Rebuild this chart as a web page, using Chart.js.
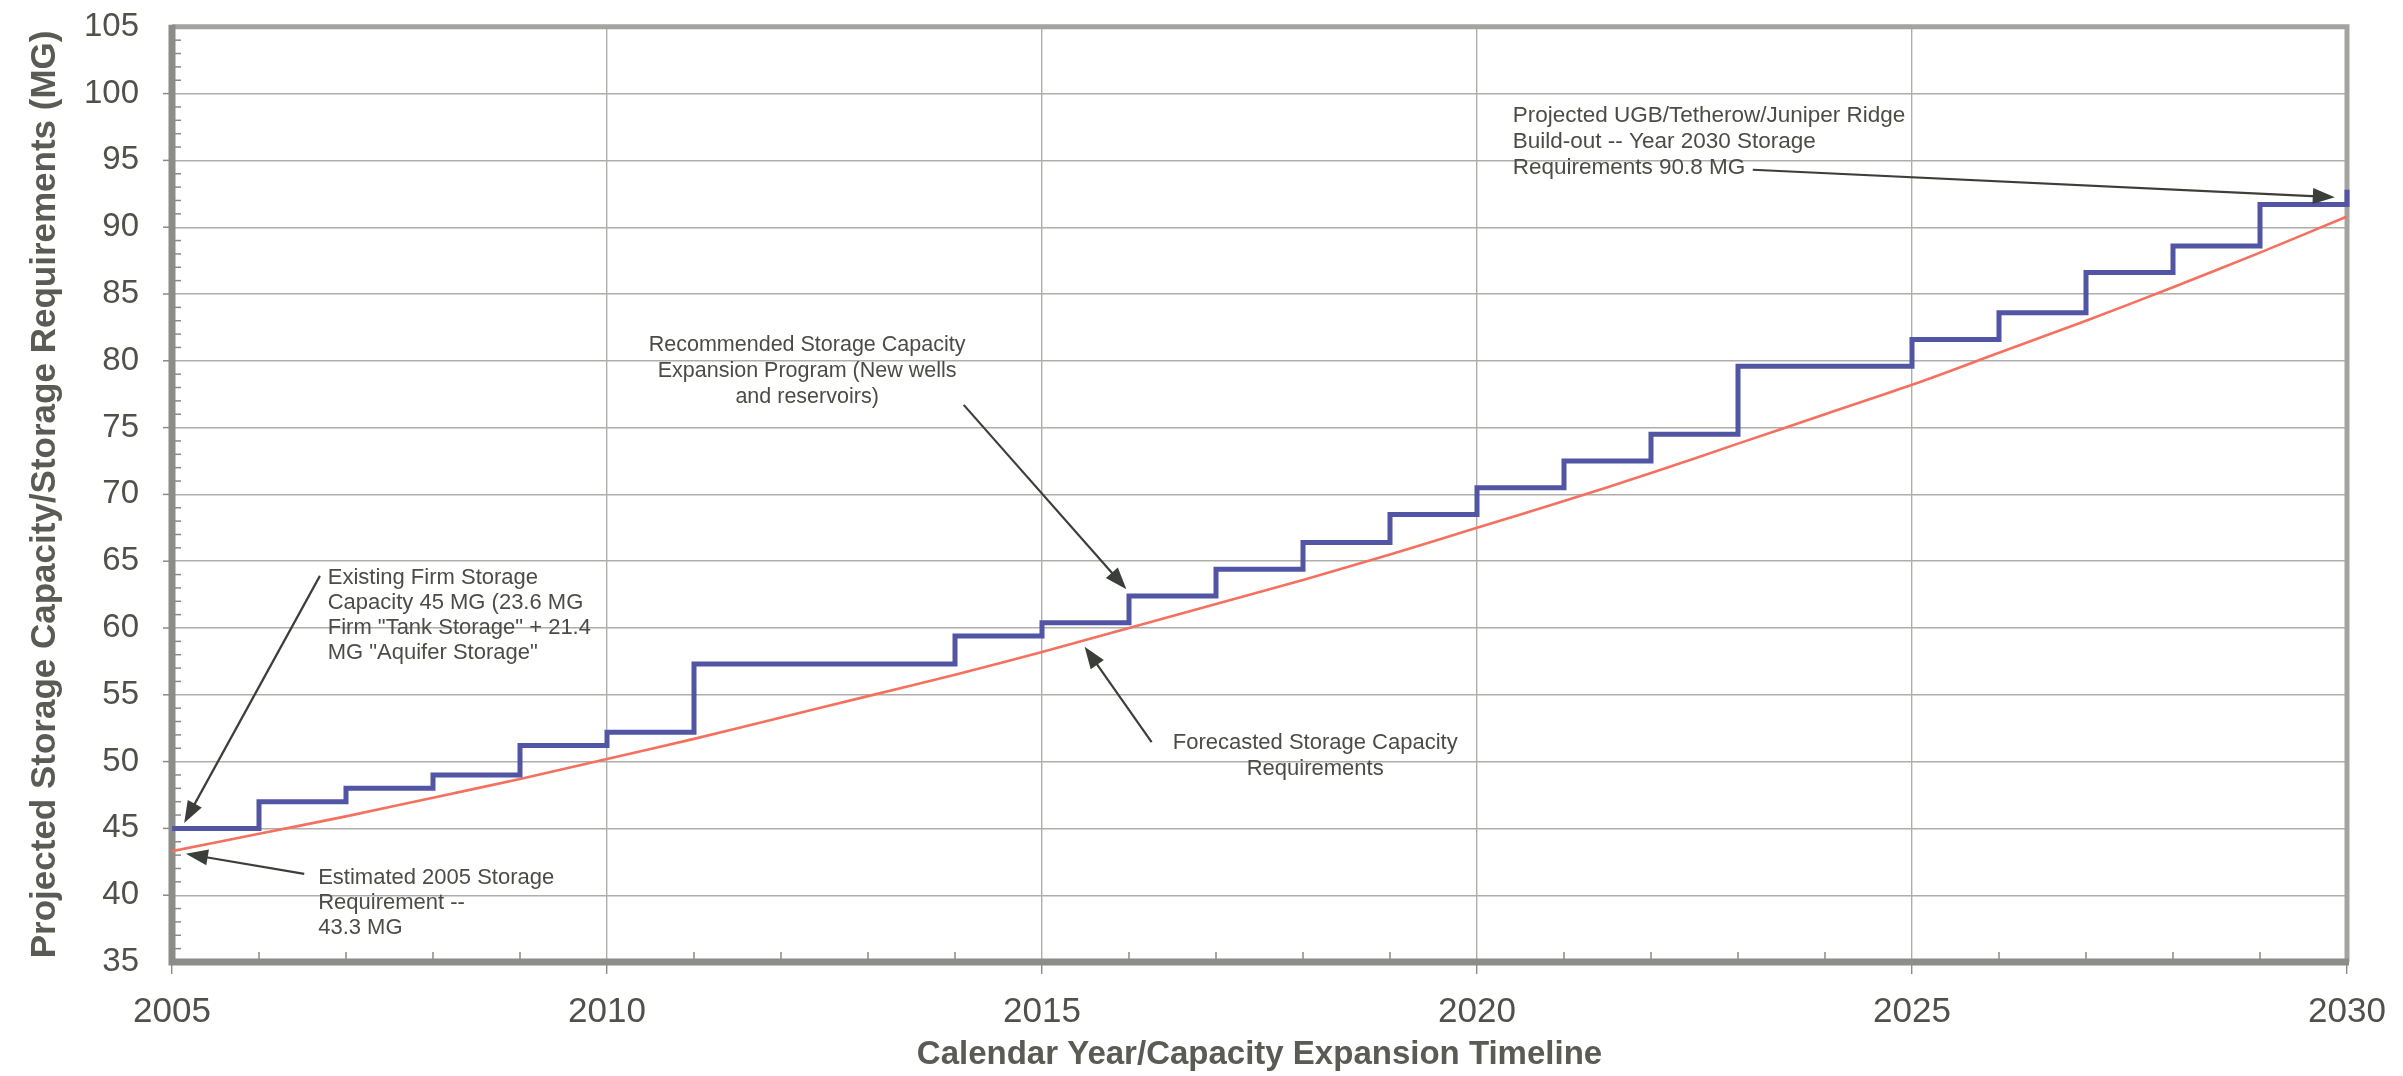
<!DOCTYPE html>
<html>
<head>
<meta charset="utf-8">
<style>
html,body{margin:0;padding:0;background:#fff;}
#wrap{width:2403px;height:1076px;position:relative;}
</style>
<script src="https://cdn.jsdelivr.net/npm/chart.js@4.4.1/dist/chart.umd.min.js"></script>
</head>
<body>
<div id="wrap"><canvas id="c" width="2403" height="1076"></canvas></div>
<script>
// ---- Data ----
const forecastYears = [2005,2006,2007,2008,2009,2010,2011,2012,2013,2014,2015,2016,2017,2018,2019,2020,2021,2022,2023,2024,2025,2026,2027,2028,2029,2030];
const forecastMG = [43.3,44.6,45.9,47.3,48.7,50.2,51.7,53.3,54.9,56.5,58.2,60.0,61.8,63.6,65.5,67.5,69.5,71.6,73.8,76.0,78.2,80.6,83.0,85.5,88.1,90.8];

const expansionYears = [2005,2006,2007,2008,2009,2010,2011,2012,2013,2014,2015,2016,2017,2018,2019,2020,2021,2022,2023,2024,2025,2026,2027,2028,2029,2030,2030];
const expansionMG = [45,47,48,49,51.2,52.2,57.3,57.3,57.3,59.4,60.4,62.4,64.4,66.4,68.5,70.5,72.5,74.5,79.6,79.6,81.6,83.6,86.6,88.6,91.7,91.7,92.8];

const xTickLabels = [2005,2010,2015,2020,2025,2030];
const yTickLabels = [35,40,45,50,55,60,65,70,75,80,85,90,95,100,105];

const xTitle = 'Calendar Year/Capacity Expansion Timeline';
const yTitle = 'Projected Storage Capacity/Storage Requirements (MG)';

// annotations: text lines, alignment, first-line anchor (data units), arrow from/to (data units)
const notes = [
  {lines:['Existing Firm Storage','Capacity 45 MG (23.6 MG','Firm "Tank Storage" + 21.4','MG "Aquifer Storage"'],
   align:'left', size:22, lh:25, tx:2006.79, ty:63.75, from:[2006.70,63.9], to:[2005.14,45.4]},
  {lines:['Estimated 2005 Storage','Requirement --','43.3 MG'],
   align:'left', size:22, lh:25, tx:2006.68, ty:41.3, from:[2006.52,41.6], to:[2005.16,43.1]},
  {lines:['Recommended Storage Capacity','Expansion Program (New wells','and reservoirs)'],
   align:'center', size:21.5, lh:26, tx:2012.30, ty:81.2, from:[2014.10,76.7], to:[2015.97,62.9]},
  {lines:['Forecasted Storage Capacity','Requirements'],
   align:'center', size:22, lh:26, tx:2018.14, ty:51.38, from:[2016.26,51.45], to:[2015.49,58.6]},
  {lines:['Projected UGB/Tetherow/Juniper Ridge','Build-out -- Year 2030 Storage','Requirements 90.8 MG'],
   align:'left', size:22.5, lh:26, tx:2020.41, ty:98.35, from:[2023.17,94.3], to:[2029.86,92.25]}
];

const TEXT = '#4b4c46';
const SANS = '"Liberation Sans", Arial, sans-serif';

const framePlugin = {
  id:'frame',
  beforeDatasetsDraw(chart){
    const {ctx, chartArea:a, scales:{x,y}} = chart;
    ctx.save();
    ctx.strokeStyle = '#8a8a86';
    ctx.lineWidth = 1.5;
    for(let v=36; v<105; v++){
      const py = y.getPixelForValue(v);
      ctx.beginPath();
      if(v%5===0){ ctx.moveTo(a.left-9, py); ctx.lineTo(a.left, py); }
      else { ctx.moveTo(a.left, py); ctx.lineTo(a.left+9, py); }
      ctx.stroke();
    }
    for(let v=2006; v<2030; v++){
      if(v%5===0) continue;
      const px = x.getPixelForValue(v);
      ctx.beginPath(); ctx.moveTo(px, a.bottom); ctx.lineTo(px, a.bottom-10); ctx.stroke();
    }
    // plot frame: top/right lighter, left/bottom heavier
    ctx.strokeStyle = '#a3a3a0';
    ctx.lineWidth = 5;
    ctx.beginPath();
    ctx.moveTo(a.left, a.top); ctx.lineTo(a.right, a.top); ctx.lineTo(a.right, a.bottom);
    ctx.stroke();
    ctx.strokeStyle = '#8c8c88';
    ctx.lineWidth = 7;
    ctx.beginPath();
    ctx.moveTo(a.left, a.top-2); ctx.lineTo(a.left, a.bottom); ctx.lineTo(a.right+2, a.bottom);
    ctx.stroke();
    ctx.restore();
  },
  afterDatasetsDraw(chart){
    const {ctx, scales:{x,y}} = chart;
    ctx.save();
    for(const n of notes){
      ctx.font = n.size + 'px ' + SANS;
      ctx.fillStyle = TEXT;
      ctx.textAlign = n.align;
      ctx.textBaseline = 'middle';
      const tx = x.getPixelForValue(n.tx), ty = y.getPixelForValue(n.ty);
      n.lines.forEach((t,i)=>ctx.fillText(t, tx, ty + i*n.lh));
      const x1 = x.getPixelForValue(n.from[0]), y1 = y.getPixelForValue(n.from[1]);
      const x2 = x.getPixelForValue(n.to[0]), y2 = y.getPixelForValue(n.to[1]);
      const ang = Math.atan2(y2-y1, x2-x1);
      const hl = 22, hw = 8;
      ctx.strokeStyle = '#3b3e39';
      ctx.fillStyle = '#3b3e39';
      ctx.lineWidth = 2.2;
      ctx.beginPath();
      ctx.moveTo(x1,y1);
      ctx.lineTo(x2 - Math.cos(ang)*hl*0.8, y2 - Math.sin(ang)*hl*0.8);
      ctx.stroke();
      ctx.beginPath();
      ctx.moveTo(x2,y2);
      ctx.lineTo(x2 - Math.cos(ang)*hl - Math.sin(ang)*hw, y2 - Math.sin(ang)*hl + Math.cos(ang)*hw);
      ctx.lineTo(x2 - Math.cos(ang)*hl + Math.sin(ang)*hw, y2 - Math.sin(ang)*hl - Math.cos(ang)*hw);
      ctx.closePath();
      ctx.fill();
    }
    ctx.restore();
  }
};

new Chart(document.getElementById('c'), {
  type:'line',
  data:{
    datasets:[
      {
        label:'Recommended Storage Capacity Expansion Program',
        data: expansionYears.map((yr,i)=>({x:yr, y:expansionMG[i]})),
        stepped:'before',
        borderColor:'#5155a3',
        borderWidth:5,
        pointRadius:0,
        fill:false,
        clip:false,
        order:1
      },
      {
        label:'Forecasted Storage Capacity Requirements',
        data: forecastYears.map((yr,i)=>({x:yr, y:forecastMG[i]})),
        borderColor:'#f5705e',
        borderWidth:2.6,
        pointRadius:0,
        tension:0.3,
        fill:false,
        order:2
      }
    ]
  },
  options:{
    responsive:false,
    animation:false,
    devicePixelRatio:1,
    layout:{padding:{top:26,right:56,left:0,bottom:0}},
    plugins:{legend:{display:false}, tooltip:{enabled:false}},
    scales:{
      x:{
        type:'linear', min:2005, max:2030,
        afterBuildTicks(s){ s.ticks = xTickLabels.map(v=>({value:v})); },
        afterFit(s){ s.height = 114; },
        border:{display:false},
        grid:{color:'#aeaeaa', lineWidth:1.4, drawTicks:true, tickLength:12, tickColor:'#8a8a86'},
        ticks:{color:'#50514b', font:{family:SANS, size:35}, padding:17, maxRotation:0, autoSkip:false,
               callback:v=>String(v)},
        title:{display:true, text:xTitle, color:'#5a5b55', font:{family:SANS, size:33, weight:'bold'}, padding:{top:0,bottom:1}}
      },
      y:{
        type:'linear', min:35, max:105,
        afterBuildTicks(s){ s.ticks = yTickLabels.map(v=>({value:v})); },
        afterFit(s){ s.width = 172; },
        border:{display:false},
        grid:{color:'#aeaeaa', lineWidth:1.4, drawTicks:true, tickLength:26, tickColor:'rgba(0,0,0,0)'},
        ticks:{color:'#50514b', font:{family:SANS, size:33}, padding:7, autoSkip:false},
        title:{display:true, text:yTitle, color:'#5a5b55', font:{family:SANS, size:35, weight:'bold'}, padding:{top:24,bottom:0}}
      }
    }
  },
  plugins:[framePlugin]
});
</script>
</body>
</html>
